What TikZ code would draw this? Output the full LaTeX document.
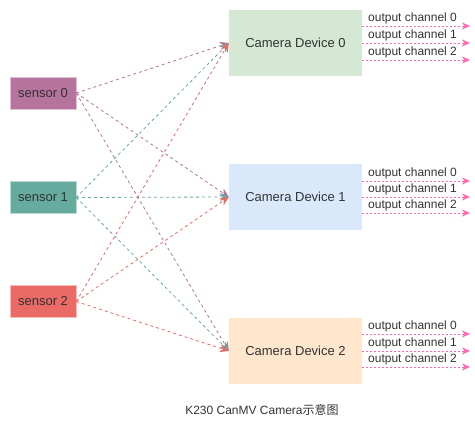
\documentclass[tikz,border=0pt]{standalone}
\usepackage{fontspec}
\setmainfont{Liberation Sans}
\newfontfamily\cjk{Noto Sans CJK SC}
\usetikzlibrary{arrows.meta}

\definecolor{sensorA}{HTML}{B5739D}
\definecolor{sensorB}{HTML}{67AB9F}
\definecolor{sensorC}{HTML}{EA6B66}
\definecolor{camA}{HTML}{D5E8D4}
\definecolor{camB}{HTML}{DAE8FC}
\definecolor{camC}{HTML}{FFE6CC}
\definecolor{outpink}{HTML}{FF66B3}
\definecolor{txt}{HTML}{333333}

\begin{document}
\begin{tikzpicture}[x=1pt, y=-1pt,
    every node/.style={text=txt},
    sensorbox/.style={rectangle, draw=#1!45!white, fill=#1, minimum width=66pt, minimum height=32pt, inner sep=0pt, font=\fontsize{13}{15}\selectfont},
    cambox/.style={rectangle, fill=#1, minimum width=133pt, minimum height=66pt, inner sep=0pt, font=\fontsize{13}{15}\selectfont},
    link/.style={draw=#1, dashed, dash pattern=on 3pt off 3pt, -{Stealth[length=9pt, width=8pt]}, line width=0.8pt},
    outlink/.style={draw=outpink, dashed, dash pattern=on 2pt off 2pt, -{Stealth[length=8pt, width=7pt]}, line width=0.8pt},
    outlabel/.style={anchor=south west, inner sep=1pt, font=\fontsize{12}{14}\selectfont}]
            \useasboundingbox (0,0) rectangle (475,421);

            \node[sensorbox=sensorA] (S0) at (43,93) {sensor 0};
            \node[sensorbox=sensorB] (S1) at (43,197.5) {sensor 1};
            \node[sensorbox=sensorC] (S2) at (43,301.5) {sensor 2};

            \node[cambox=camA] (C0) at (295.5,43) {Camera Device 0};
            \node[cambox=camB] (C1) at (295.5,197) {Camera Device 1};
            \node[cambox=camC] (C2) at (295.5,351) {Camera Device 2};

            % sensor -> camera
            \draw[link=sensorA] (S0.east) -- (C0.west);
            \draw[link=sensorA] (S0.east) -- (C1.west);
            \draw[link=sensorA] (S0.east) -- (C2.west);
            \draw[link=sensorB] (S1.east) -- (C0.west);
            \draw[link=sensorB] (S1.east) -- (C1.west);
            \draw[link=sensorB] (S1.east) -- (C2.west);
            \draw[link=sensorC] (S2.east) -- (C0.west);
            \draw[link=sensorC] (S2.east) -- (C1.west);
            \draw[link=sensorC] (S2.east) -- (C2.west);

            % output channels
            \coordinate (C0_o0) at (362,26);
            \coordinate (C0_o1) at (362,43);
            \coordinate (C0_o2) at (362,60);
            \coordinate (C1_o0) at (362,181);
            \coordinate (C1_o1) at (362,197);
            \coordinate (C1_o2) at (362,213);
            \coordinate (C2_o0) at (362,334);
            \coordinate (C2_o1) at (362,351);
            \coordinate (C2_o2) at (362,367);
            \coordinate (E0_0) at (470,26);
            \coordinate (E0_1) at (470,43);
            \coordinate (E0_2) at (470,60);
            \coordinate (E1_0) at (470,181);
            \coordinate (E1_1) at (470,197);
            \coordinate (E1_2) at (470,213);
            \coordinate (E2_0) at (470,334);
            \coordinate (E2_1) at (470,351);
            \coordinate (E2_2) at (470,367);

            \draw[outlink] (C0_o0) -- (E0_0);
            \draw[outlink] (C0_o1) -- (E0_1);
            \draw[outlink] (C0_o2) -- (E0_2);
            \draw[outlink] (C1_o0) -- (E1_0);
            \draw[outlink] (C1_o1) -- (E1_1);
            \draw[outlink] (C1_o2) -- (E1_2);
            \draw[outlink] (C2_o0) -- (E2_0);
            \draw[outlink] (C2_o1) -- (E2_1);
            \draw[outlink] (C2_o2) -- (E2_2);

            \node[outlabel] (L0_0) at (367,25) {output channel 0};
            \node[outlabel] (L0_1) at (367,42) {output channel 1};
            \node[outlabel] (L0_2) at (367,59) {output channel 2};
            \node[outlabel] (L1_0) at (367,180) {output channel 0};
            \node[outlabel] (L1_1) at (367,196) {output channel 1};
            \node[outlabel] (L1_2) at (367,212) {output channel 2};
            \node[outlabel] (L2_0) at (367,333) {output channel 0};
            \node[outlabel] (L2_1) at (367,350) {output channel 1};
            \node[outlabel] (L2_2) at (367,366) {output channel 2};

            \node[font=\fontsize{12}{14}\selectfont] (cap) at (262,410) {K230 CanMV Camera{\cjk 示意图}};
\end{tikzpicture}
\end{document}
